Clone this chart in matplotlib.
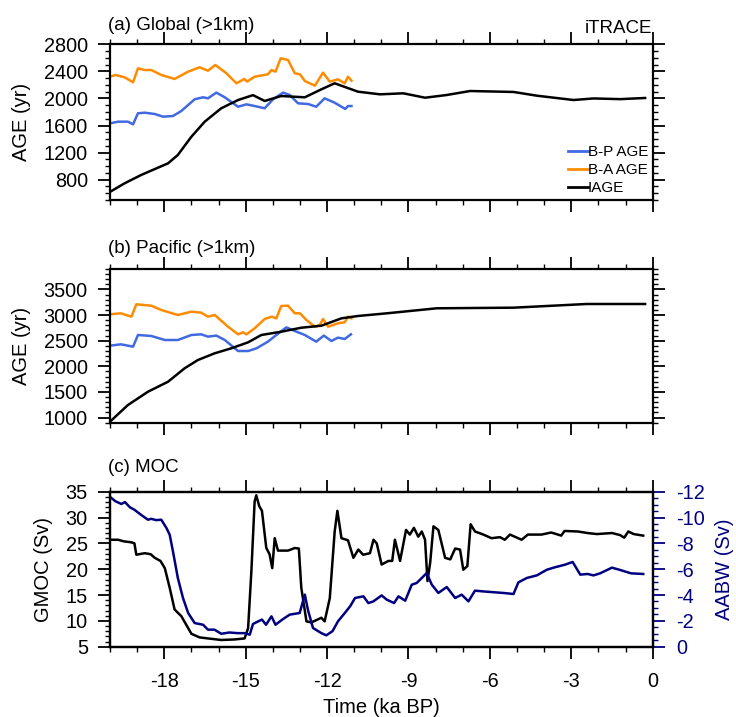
import matplotlib
matplotlib.use("Agg")
import matplotlib.pyplot as plt
from matplotlib.ticker import MultipleLocator

plt.rcParams['font.family'] = ['Liberation Sans', 'DejaVu Sans']
plt.rcParams['axes.unicode_minus'] = False

# ---------------- data ----------------
# (a) Global (>1km)
a_iage_t = [-20, -19.46, -18.85, -17.86, -17.5, -17.0, -16.51, -15.9, -15.28, -14.73, -14.3,
            -13.69, -12.82, -12.21, -11.72, -10.86, -10.05, -9.19, -8.39, -7.59, -6.73,
            -5.13, -4.27, -2.92, -2.18, -1.2, -0.28]
a_iage = [620, 747, 870, 1042, 1165, 1435, 1657, 1855, 1977, 2049, 1963,
          2036, 2017, 2135, 2224, 2100, 2061, 2076, 2011, 2051, 2110,
          2096, 2041, 1977, 2000, 1990, 2007]

a_ba_t = [-20, -19.8, -19.46, -19.15, -18.97, -18.72, -18.48, -18.11, -17.62, -17.12, -16.7,
          -16.39, -16.12, -15.71, -15.34, -15.05, -14.95, -14.67, -14.18, -14.05, -13.9,
          -13.71, -13.44, -13.19, -13.0, -12.82, -12.45, -12.15, -11.9, -11.6, -11.35,
          -11.23, -11.1]
a_ba = [2321, 2347, 2312, 2239, 2445, 2420, 2420, 2347, 2288, 2396, 2460,
        2410, 2494, 2372, 2224, 2288, 2250, 2321, 2357, 2420, 2396,
        2593, 2568, 2372, 2357, 2258, 2189, 2381, 2248, 2283, 2224,
        2321, 2263]

a_bp_t = [-20, -19.7, -19.34, -19.15, -18.97, -18.72, -18.35, -18.05, -17.68, -17.37, -16.88,
          -16.57, -16.39, -16.08, -15.77, -15.28, -14.97, -14.67, -14.3, -13.99, -13.62,
          -13.38, -13.07, -12.7, -12.4, -12.09, -11.72, -11.33, -11.23, -11.1]
a_bp = [1633, 1657, 1657, 1618, 1781, 1790, 1770, 1731, 1741, 1815, 1988,
        2017, 2002, 2086, 2017, 1878, 1913, 1888, 1855, 1988, 2086,
        2052, 1928, 1918, 1878, 2002, 1937, 1845, 1888, 1888]

# (b) Pacific (>1km)
b_iage_t = [-20, -19.34, -18.6, -17.86, -17.25, -16.76, -16.14, -15.53, -14.91, -14.42,
            -13.69, -12.95, -12.21, -11.47, -10.86, -9.8, -7.96, -5.13, -2.43, -0.28]
b_iage = [920, 1245, 1505, 1700, 1962, 2124, 2255, 2352, 2469, 2612,
          2676, 2754, 2793, 2937, 2983, 3035, 3133, 3145, 3217, 3217]

b_ba_t = [-20, -19.6, -19.21, -19.03, -18.48, -18.11, -17.5, -17.0, -16.64, -16.39, -16.14,
          -15.65, -15.28, -15.1, -14.97, -14.67, -14.3, -14.05, -13.87, -13.69, -13.44,
          -13.19, -13.0, -12.76, -12.45, -12.27, -12.15, -11.96, -11.6, -11.35, -11.23, -11.1]
b_ba = [3016, 3035, 2970, 3211, 3184, 3100, 3002, 3067, 3048, 2970, 3002,
        2774, 2625, 2664, 2625, 2742, 2924, 2970, 2937, 3178, 3184,
        3035, 3035, 2904, 2774, 2807, 2924, 2774, 2840, 2860, 2970, 2937]

b_bp_t = [-20, -19.6, -19.15, -18.97, -18.48, -17.98, -17.5, -17.0, -16.64, -16.39, -16.08,
          -15.77, -15.28, -14.91, -14.6, -14.18, -13.87, -13.5, -13.19, -12.82, -12.4,
          -12.12, -11.84, -11.6, -11.35, -11.12]
b_bp = [2403, 2430, 2384, 2612, 2593, 2514, 2514, 2612, 2625, 2580, 2600,
        2514, 2299, 2299, 2352, 2482, 2612, 2761, 2690, 2612, 2482,
        2600, 2495, 2560, 2534, 2625]

# (c) MOC
gmoc_t = [-20, -19.7, -19.5, -19.21, -19.1, -19.03, -18.72, -18.5, -18.35, -18.14, -17.98,
          -17.8, -17.62, -17.37, -17.0, -16.7, -16.39, -15.9, -15.41, -15.04, -14.91,
          -14.79, -14.67, -14.61, -14.5, -14.4, -14.24, -14.12, -14.02, -13.93, -13.81,
          -13.44, -13.19, -13.04, -12.95, -12.76, -12.58, -12.21, -12.09, -11.9, -11.72,
          -11.62, -11.47, -11.23, -11.03, -10.85, -10.67, -10.42, -10.29, -10.17, -9.99,
          -9.74, -9.6, -9.5, -9.31, -9.09, -8.95, -8.8, -8.64, -8.51, -8.39,
          -8.3, -8.2, -8.08, -7.9, -7.65, -7.46, -7.28, -7.1, -6.98, -6.83,
          -6.71, -6.55, -6.24, -5.94, -5.63, -5.45, -5.26, -4.83, -4.6, -4.1,
          -3.74, -3.37, -3.25, -2.76, -2.4, -2.06, -1.5, -1.2, -1.05, -0.9,
          -0.7, -0.35]
gmoc = [25.7, 25.7, 25.4, 25.2, 25.0, 22.8, 23.1, 22.9, 22.2, 21.6, 20.2,
        16.4, 12.2, 10.9, 7.5, 6.8, 6.6, 6.3, 6.4, 6.6, 8.6,
        19.6, 33.1, 34.3, 32.2, 31.3, 24.1, 22.9, 20.2, 26.0, 23.6,
        23.6, 24.1, 24.0, 16.4, 9.9, 9.7, 10.6, 9.9, 14.4, 27.3,
        31.3, 26.0, 25.6, 22.2, 23.8, 22.8, 23.1, 25.7, 25.0, 20.9,
        21.6, 21.6, 25.7, 21.6, 27.6, 26.7, 28.0, 26.3, 27.3, 25.7,
        17.7, 21.3, 28.3, 27.6, 22.2, 21.9, 24.0, 23.8, 19.9, 20.6,
        28.7, 27.3, 26.7, 26.0, 26.2, 25.7, 26.7, 25.7, 26.7, 26.7,
        27.1, 26.5, 27.4, 27.3, 27.0, 26.8, 27.0, 26.6, 26.1, 27.3,
        26.8, 26.5]

aabw_t = [-20, -19.8, -19.58, -19.45, -19.27, -19.1, -18.85, -18.6, -18.48, -18.3, -18.11,
          -17.92, -17.8, -17.68, -17.5, -17.31, -17.12, -16.88, -16.57, -16.39, -16.15,
          -15.9, -15.6, -15.3, -15.04, -14.85, -14.73, -14.54, -14.4, -14.25, -14.05,
          -13.9, -13.65, -13.38, -13.01, -12.82, -12.7, -12.52, -12.21, -12.03, -11.8,
          -11.6, -11.35, -11.15, -10.97, -10.66, -10.48, -10.3, -9.99, -9.8, -9.53,
          -9.37, -9.12, -8.88, -8.7, -8.51, -8.33, -8.14, -7.9, -7.59, -7.28,
          -7.04, -6.79, -6.55, -6.24, -5.94, -5.5, -5.13, -4.95, -4.64, -4.27,
          -3.9, -3.6, -3.23, -2.95, -2.67, -2.4, -2.18, -1.94, -1.5, -1.2,
          -0.8, -0.35]
aabw = [-11.6, -11.26, -11.05, -11.2, -10.8, -10.6, -10.2, -9.83, -9.9, -9.8, -9.83,
        -9.19, -8.67, -7.38, -5.32, -3.77, -2.61, -1.83, -1.7, -1.32, -1.32,
        -1.0, -1.1, -1.05, -1.05, -0.93, -1.76, -1.96, -2.1, -1.7, -2.35,
        -1.7, -2.1, -2.48, -2.61, -4.03, -2.8, -1.45, -1.05, -0.88, -1.2,
        -1.96, -2.6, -3.13, -3.77, -3.9, -3.38, -3.5, -3.97, -3.64, -3.38,
        -3.9, -3.56, -4.8, -4.93, -5.32, -5.7, -4.8, -4.16, -4.62, -3.77,
        -4.03, -3.51, -4.34, -4.28, -4.23, -4.16, -4.08, -4.98, -5.32, -5.52,
        -5.96, -6.15, -6.35, -6.56, -5.58, -5.63, -5.52, -5.68, -6.12, -5.94,
        -5.68, -5.63]

xticks = [-18, -15, -12, -9, -6, -3, 0]
age_ticks_a = [800, 1200, 1600, 2000, 2400, 2800]
age_ticks_b = [1000, 1500, 2000, 2500, 3000, 3500]
gmoc_ticks = [5, 10, 15, 20, 25, 30, 35]
aabw_ticks = [0, -2, -4, -6, -8, -10, -12]

# ---------------- style ----------------
BLUE = '#4169E1'
ORANGE = '#FF8C00'
NAVY = '#000080'
FS = 13.5      # titles
TFS = 14.3     # tick labels
LFS = 14.5     # axis labels
LW = 1.8

fig = plt.figure(figsize=(7.36, 7.17), dpi=100)
W, H = 736, 717


def add_ax(top, bottom, left=110, right=652.7):
    return fig.add_axes([left / W, 1 - bottom / H, (right - left) / W, (bottom - top) / H])


def style(ax, labelbottom):
    for s in ax.spines.values():
        s.set_linewidth(1.6)
    ax.set_xlim(-20, 0)
    ax.set_xticks(xticks)
    ax.xaxis.set_minor_locator(MultipleLocator(1))
    ax.tick_params(axis='both', which='major', direction='out', length=8.5, width=1.3,
                   labelsize=TFS, top=True, right=True)
    ax.tick_params(axis='both', which='minor', direction='out', length=3.8, width=1.0,
                   top=True, right=True)
    ax.tick_params(axis='x', which='major', pad=10, labelbottom=labelbottom)
    ax.tick_params(axis='y', which='major', pad=7.5)


ax1 = add_ax(44.3, 200)
ax2 = add_ax(269, 422.7)
ax3 = add_ax(491.7, 646.7)

# (a)
ax1.plot(a_bp_t, a_bp, color=BLUE, lw=LW, label='B-P AGE')
ax1.plot(a_ba_t, a_ba, color=ORANGE, lw=LW, label='B-A AGE')
ax1.plot(a_iage_t, a_iage, color='black', lw=LW, label='IAGE')
style(ax1, False)
ax1.set_ylim(500, 2800)
ax1.set_yticks(age_ticks_a)
ax1.yaxis.set_minor_locator(MultipleLocator(100))
ax1.set_ylabel('AGE (yr)', fontsize=LFS, labelpad=9)
ax1.annotate('(a) Global (>1km)', xy=(0, 1), xycoords='axes fraction', xytext=(-1.5, 10),
             textcoords='offset points', ha='left', va='baseline', fontsize=FS)
ax1.annotate('iTRACE', xy=(1, 1), xycoords='axes fraction', xytext=(0, 8),
             textcoords='offset points', ha='right', va='baseline', fontsize=FS)
leg = ax1.legend(loc='lower right', frameon=False, fontsize=11, handlelength=1.3,
                 handletextpad=0.0, labelspacing=0.28, borderaxespad=0.1, borderpad=0.2)
for line in leg.get_lines():
    line.set_linewidth(2.0)

# (b)
ax2.plot(b_bp_t, b_bp, color=BLUE, lw=LW)
ax2.plot(b_ba_t, b_ba, color=ORANGE, lw=LW)
ax2.plot(b_iage_t, b_iage, color='black', lw=LW)
style(ax2, False)
ax2.set_ylim(900, 3900)
ax2.set_yticks(age_ticks_b)
ax2.yaxis.set_minor_locator(MultipleLocator(100))
ax2.set_ylabel('AGE (yr)', fontsize=LFS, labelpad=9)
ax2.annotate('(b) Pacific (>1km)', xy=(0, 1), xycoords='axes fraction', xytext=(-1.5, 11.7),
             textcoords='offset points', ha='left', va='baseline', fontsize=FS)

# (c)
ax3.plot(gmoc_t, gmoc, color='black', lw=LW)
style(ax3, True)
ax3.tick_params(right=False, which='both')
ax3.set_ylim(5, 35)
ax3.set_yticks(gmoc_ticks)
ax3.yaxis.set_minor_locator(MultipleLocator(1))
ax3.set_ylabel('GMOC (Sv)', fontsize=LFS, labelpad=9)
ax3.set_xlabel('Time (ka BP)', fontsize=LFS, labelpad=5)
ax3.annotate('(c) MOC', xy=(0, 1), xycoords='axes fraction', xytext=(-1.5, 14.4),
             textcoords='offset points', ha='left', va='baseline', fontsize=FS)

ax3r = ax3.twinx()
ax3r.plot(aabw_t, aabw, color=NAVY, lw=LW)
ax3r.set_ylim(0, -12)
ax3r.set_yticks(aabw_ticks)
ax3r.yaxis.set_minor_locator(MultipleLocator(0.5))
ax3r.tick_params(axis='y', which='major', direction='out', length=8.5, width=1.3,
                 labelsize=TFS, colors=NAVY, pad=8.5)
ax3r.tick_params(axis='y', which='minor', direction='out', length=3.8, width=1.0, colors=NAVY)
ax3r.set_ylabel('AABW (Sv)', fontsize=LFS, color=NAVY, labelpad=7)
for s in ax3r.spines.values():
    s.set_linewidth(1.6)

fig.savefig('out.png', dpi=100)
